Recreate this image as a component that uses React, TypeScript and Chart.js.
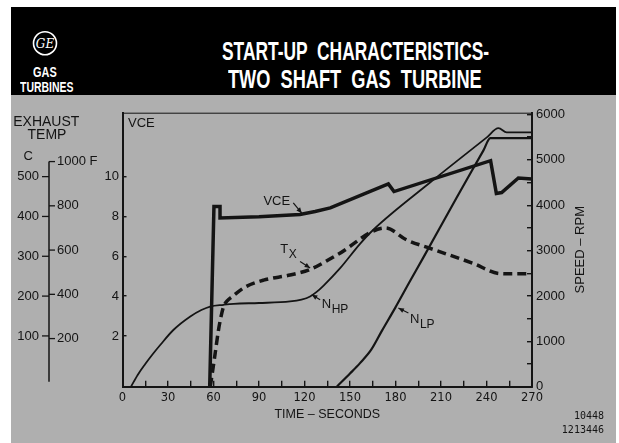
import React, { useEffect, useLayoutEffect, useRef } from 'react';
import { Chart, registerables } from 'chart.js';

Chart.register(...registerables);

const INK = '#141414';
const GRAY = '#afafaf';
const SANS = '"Liberation Sans", Arial, Helvetica, sans-serif';

// ---- axis ticks ----
const TIME_TICKS = [0, 15, 30, 45, 60, 75, 90, 105, 120, 135, 150, 165, 180, 195, 210, 225, 240, 255, 270];
const TIME_LABELS = [0, 30, 60, 90, 120, 150, 180, 210, 240, 270];
const RPM_TICKS = [0, 500, 1000, 1500, 2000, 2500, 3000, 3500, 4000, 4500, 5000, 5500, 6000];
const RPM_LABELS = [0, 1000, 2000, 3000, 4000, 5000, 6000];
const VCE_TICKS = [2, 4, 6, 8, 10];
const TEMP_C_TICKS = [100, 200, 300, 400, 500];
const TEMP_F_TICKS = [200, 400, 600, 800, 1000];

// ---- series ----
const VCE_TIME = [57.5, 60.3, 64.3, 64.3, 90, 117, 127, 137, 175.3, 179, 242.7, 246.5, 250, 261, 270];
const VCE_VALUE = [-0.55, 8.5, 8.5, 7.92, 7.98, 8.1, 8.25, 8.43, 9.63, 9.25, 10.8, 9.15, 9.2, 9.93, 9.88];

const TX_TIME = [57.9, 60.5, 63.3, 64.5, 66.6, 69, 72.1, 81, 93, 110.5, 123.7, 141.3, 173.5, 187.4, 202.8, 231.3, 247.8, 255, 270];
const TX_DEG_C = [-27, 40, 115, 140, 173, 188, 198, 223, 240, 253, 267, 303, 371, 341, 320, 282, 257, 256, 256];

const NHP_TIME = [5.6, 10, 15, 20, 25, 33.7, 44.7, 52, 57.8, 66.7, 73.3, 90, 110.5, 118, 123.7, 128, 132.6, 143.5, 156.6, 165.4, 202.8, 240, 247.9, 253.3, 270];
const NHP_RPM = [0, 260, 500, 720, 925, 1255, 1548, 1690, 1767, 1806, 1828, 1845, 1879, 1920, 1990, 2090, 2230, 2614, 3150, 3460, 4500, 5490, 5700, 5605, 5605];

const NLP_TIME = [141.3, 150, 156.6, 164, 171, 179.7, 189.6, 198.4, 220, 238, 242.5, 270];
const NLP_RPM = [0, 290, 520, 815, 1230, 1733, 2330, 2850, 4150, 5210, 5478, 5478];

// ---- scale ranges ----
const VCE_MIN = -0.55;
const VCE_MAX = 13.21;
const C_PER_VCE = 50;
const C_MIN = VCE_MIN * C_PER_VCE;
const C_MAX = VCE_MAX * C_PER_VCE;
const F_MIN = C_MIN * 1.8 + 32;
const F_MAX = C_MAX * 1.8 + 32;
const RPM_MAX = 6040;
const EXHAUST_AXIS_LOW_C = -15;

// curve annotations, in (time, rpm) coordinates
const CURVE_NOTES = [
  { main: 'VCE', sub: '', t: 92.9, rpm: 4009, from: [112.6, 4053], to: [118.2, 3826] },
  { main: 'T', sub: 'X', t: 104, rpm: 2952, from: [117.1, 2760], to: [123.7, 2615] },
  { main: 'N', sub: 'HP', t: 131.4, rpm: 1740, from: [130.3, 1916], to: [124.8, 2026] },
  { main: 'N', sub: 'LP', t: 189.6, rpm: 1410, from: [188.5, 1623], to: [181.9, 1733] },
];

const pts = (xs: number[], ys: number[]) => xs.map((x, i) => ({ x, y: ys[i] }));

const line = (ctx: CanvasRenderingContext2D, x1: number, y1: number, x2: number, y2: number) => {
  ctx.beginPath();
  ctx.moveTo(x1, y1);
  ctx.lineTo(x2, y2);
  ctx.stroke();
};

const decorPlugin = {
  id: 'decor',
  afterDraw(chart: any) {
    const { ctx, chartArea } = chart;
    const { x, yR, yC, yF, yV } = chart.scales;
    ctx.save();
    ctx.strokeStyle = INK;
    ctx.fillStyle = INK;

    // top frame line
    ctx.lineWidth = 1;
    line(ctx, chartArea.left, chartArea.top + 0.5, chartArea.right, chartArea.top + 0.5);

    // exhaust temperature axis
    const ax = yC.right - 8;
    ctx.lineWidth = 1.5;
    line(ctx, ax, yF.getPixelForValue(1000), ax, yC.getPixelForValue(EXHAUST_AXIS_LOW_C));
    ctx.lineWidth = 1.3;
    TEMP_C_TICKS.forEach((c) => {
      const y = yC.getPixelForValue(c);
      line(ctx, ax - 7, y, ax, y);
    });
    TEMP_F_TICKS.forEach((f) => {
      const y = yF.getPixelForValue(f);
      line(ctx, ax, y, ax + 6, y);
    });
    ctx.textBaseline = 'alphabetic';
    ctx.textAlign = 'center';
    ctx.font = `14px ${SANS}`;
    ctx.fillText('EXHAUST', yC.right - 10.7, yC.getPixelForValue(626));
    ctx.fillText('TEMP', yC.right - 10, yC.getPixelForValue(595));
    ctx.font = `13px ${SANS}`;
    ctx.fillText('C', yC.right - 28.7, yC.getPixelForValue(542));

    // VCE axis title inside plot
    ctx.textAlign = 'left';
    ctx.font = `13px ${SANS}`;
    ctx.fillText('VCE', x.getPixelForValue(3.6), yV.getPixelForValue(12.5));

    // speed axis title, reading bottom to top
    ctx.save();
    ctx.translate(yR.left + 48, (chartArea.top + chartArea.bottom) / 2);
    ctx.rotate(-Math.PI / 2);
    ctx.textAlign = 'center';
    ctx.textBaseline = 'middle';
    ctx.font = `13px ${SANS}`;
    ctx.fillText('SPEED \u2013 RPM', 0, 0);
    ctx.restore();

    // curve labels and arrows
    CURVE_NOTES.forEach((n) => {
      const px = x.getPixelForValue(n.t);
      const py = yR.getPixelForValue(n.rpm);
      ctx.textAlign = 'left';
      ctx.textBaseline = 'alphabetic';
      ctx.font = `13px ${SANS}`;
      ctx.fillText(n.main, px, py);
      const w = ctx.measureText(n.main).width;
      if (n.sub) {
        ctx.font = `12px ${SANS}`;
        ctx.fillText(n.sub, px + w + 0.5, py + 5.5);
      }
      const x1 = x.getPixelForValue(n.from[0]);
      const y1 = yR.getPixelForValue(n.from[1]);
      const x2 = x.getPixelForValue(n.to[0]);
      const y2 = yR.getPixelForValue(n.to[1]);
      ctx.lineWidth = 1.2;
      line(ctx, x1, y1, x2, y2);
      const a = Math.atan2(y2 - y1, x2 - x1);
      const L = 5.5;
      const H = 2.4;
      ctx.beginPath();
      ctx.moveTo(x2, y2);
      ctx.lineTo(x2 - L * Math.cos(a) + H * Math.sin(a), y2 - L * Math.sin(a) - H * Math.cos(a));
      ctx.lineTo(x2 - L * Math.cos(a) - H * Math.sin(a), y2 - L * Math.sin(a) + H * Math.cos(a));
      ctx.closePath();
      ctx.fill();
    });
    ctx.restore();
  },
};

function FitText(props: { text: string; left: number; top: number; width: number; size: number; weight?: number }) {
  const ref = useRef<HTMLDivElement>(null);
  useLayoutEffect(() => {
    const el = ref.current;
    if (!el) return;
    const w = el.scrollWidth || 1;
    el.style.transform = `scaleX(${props.width / w})`;
  }, [props.text, props.width]);
  return (
    <div
      ref={ref}
      style={{
        position: 'absolute',
        left: props.left,
        top: props.top,
        whiteSpace: 'pre',
        fontFamily: SANS,
        fontSize: props.size,
        fontWeight: props.weight ?? 700,
        lineHeight: 1,
        color: '#fff',
        transformOrigin: '0 0',
      }}
    >
      {props.text}
    </div>
  );
}

export default function App() {
  const canvasRef = useRef<HTMLCanvasElement>(null);

  useLayoutEffect(() => {
    document.body.style.margin = '0';
  }, []);

  useEffect(() => {
    const canvas = canvasRef.current;
    if (!canvas) return;
    const tickFont = { family: SANS, size: 13 };
    const chart = new Chart(canvas, {
      type: 'line',
      data: {
        datasets: [
          {
            label: 'VCE',
            data: pts(VCE_TIME, VCE_VALUE),
            yAxisID: 'yV',
            borderColor: INK,
            borderWidth: 3.5,
            pointRadius: 0,
            tension: 0,
            fill: false,
          },
          {
            label: 'Tx',
            data: pts(TX_TIME, TX_DEG_C),
            yAxisID: 'yC',
            borderColor: INK,
            borderWidth: 3.5,
            borderDash: [9, 5],
            pointRadius: 0,
            cubicInterpolationMode: 'monotone',
            fill: false,
          },
          {
            label: 'NHP',
            data: pts(NHP_TIME, NHP_RPM),
            yAxisID: 'yR',
            borderColor: INK,
            borderWidth: 1.8,
            pointRadius: 0,
            cubicInterpolationMode: 'monotone',
            fill: false,
          },
          {
            label: 'NLP',
            data: pts(NLP_TIME, NLP_RPM),
            yAxisID: 'yR',
            borderColor: INK,
            borderWidth: 2.2,
            pointRadius: 0,
            cubicInterpolationMode: 'monotone',
            fill: false,
          },
        ],
      },
      options: {
        responsive: false,
        animation: false,
        devicePixelRatio: 1,
        layout: { padding: { top: 17.7, left: 0, right: 0, bottom: 0 } },
        plugins: { legend: { display: false }, tooltip: { enabled: false }, title: { display: false } },
        scales: {
          x: {
            type: 'linear',
            position: 'bottom',
            min: 0,
            max: 270,
            afterBuildTicks: (s: any) => {
              s.ticks = TIME_TICKS.map((v) => ({ value: v }));
            },
            afterFit: (s: any) => {
              s.height = 56.3;
            },
            ticks: {
              autoSkip: false,
              maxRotation: 0,
              padding: 10.7,
              color: INK,
              font: { family: '"DejaVu Sans", sans-serif', size: 11.5 },
              callback: (v: any) => (TIME_LABELS.includes(Number(v)) ? String(v) : ''),
            },
            grid: { drawOnChartArea: false, drawTicks: true, tickLength: -6, color: INK, lineWidth: 1.4 },
            border: { display: true, color: INK, width: 2 },
            title: {
              display: true,
              text: 'TIME \u2013 SECONDS',
              color: INK,
              font: { family: SANS, size: 12.5 },
              padding: { top: 0, bottom: 20.5 },
            },
          },
          yR: {
            type: 'linear',
            position: 'right',
            min: 0,
            max: RPM_MAX,
            afterBuildTicks: (s: any) => {
              s.ticks = RPM_TICKS.map((v) => ({ value: v }));
            },
            afterFit: (s: any) => {
              s.width = 87;
            },
            ticks: {
              autoSkip: false,
              padding: 9,
              color: INK,
              font: tickFont,
              callback: (v: any) => (RPM_LABELS.includes(Number(v)) ? String(v) : ''),
            },
            grid: { drawOnChartArea: false, drawTicks: true, tickLength: -5, color: INK, lineWidth: 1.4 },
            border: { display: true, color: INK, width: 2 },
          },
          yV: {
            type: 'linear',
            position: 'left',
            weight: 1,
            min: VCE_MIN,
            max: VCE_MAX,
            afterBuildTicks: (s: any) => {
              s.ticks = VCE_TICKS.map((v) => ({ value: v }));
            },
            afterFit: (s: any) => {
              s.width = 22;
            },
            ticks: { autoSkip: false, padding: 7.5, color: INK, font: tickFont },
            grid: { drawOnChartArea: false, drawTicks: true, tickLength: -4, color: INK, lineWidth: 1.4 },
            border: { display: true, color: INK, width: 2 },
          },
          yF: {
            type: 'linear',
            position: 'left',
            weight: 2,
            min: F_MIN,
            max: F_MAX,
            afterBuildTicks: (s: any) => {
              s.ticks = TEMP_F_TICKS.map((v) => ({ value: v }));
            },
            afterFit: (s: any) => {
              s.width = 43.5;
            },
            ticks: {
              autoSkip: false,
              crossAlign: 'far',
              padding: 0,
              color: INK,
              font: tickFont,
              callback: (v: any) => (Number(v) === 1000 ? '1000 F' : String(v)),
            },
            grid: { display: false, drawTicks: false },
            border: { display: false },
          },
          yC: {
            type: 'linear',
            position: 'left',
            weight: 3,
            min: C_MIN,
            max: C_MAX,
            afterBuildTicks: (s: any) => {
              s.ticks = TEMP_C_TICKS.map((v) => ({ value: v }));
            },
            afterFit: (s: any) => {
              s.width = 57;
            },
            ticks: { autoSkip: false, padding: 8, color: INK, font: tickFont },
            grid: { display: false, drawTicks: true, tickLength: 10 },
            border: { display: false },
          },
        },
      } as any,
      plugins: [decorPlugin],
    });
    return () => chart.destroy();
  }, []);

  return (
    <div style={{ position: 'relative', width: 619, height: 443, background: '#fff', overflow: 'hidden' }}>
      <div style={{ position: 'absolute', left: 11, top: 7, width: 605, height: 436, background: GRAY }} />
      <div style={{ position: 'absolute', left: 11, top: 7, width: 605, height: 88, background: '#000' }} />
      <svg width={40} height={40} style={{ position: 'absolute', left: 25, top: 23 }}>
        <circle cx={20} cy={20.3} r={11.5} fill="none" stroke="#fff" strokeWidth={1.6} />
        <text
          x={20}
          y={24.5}
          textAnchor="middle"
          fill="#fff"
          fontFamily='"DejaVu Serif", "Liberation Serif", serif'
          fontStyle="italic"
          fontSize={12}
        >
          GE
        </text>
      </svg>
      <FitText text="GAS" left={33.3} top={64.9} width={23.4} size={14} />
      <FitText text="TURBINES" left={20} top={80} width={53.3} size={14.5} />
      <FitText text="START-UP  CHARACTERISTICS-" left={222} top={37.5} width={267} size={26} />
      <FitText text="TWO  SHAFT  GAS  TURBINE" left={228} top={65.5} width={254} size={26} />
      <canvas ref={canvasRef} width={619} height={348} style={{ position: 'absolute', left: 0, top: 95 }} />
      <div
        style={{
          position: 'absolute',
          right: 15,
          top: 409,
          textAlign: 'right',
          fontFamily: '"DejaVu Sans Mono", monospace',
          fontSize: 10,
          lineHeight: '14px',
          color: INK,
        }}
      >
        <div>10448</div>
        <div>1213446</div>
      </div>
    </div>
  );
}
